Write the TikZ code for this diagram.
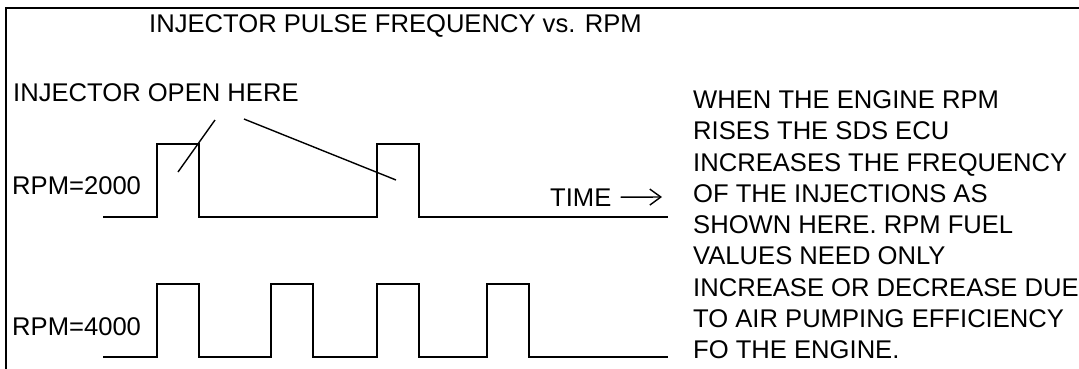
\documentclass[tikz,border=0pt]{standalone}
\usepackage{fontspec}
\setmainfont{Liberation Sans}
\usetikzlibrary{arrows.meta}

\begin{document}
\begin{tikzpicture}[
  x=1pt, y=-1pt,
  lbl/.style={font=\fontsize{25.6}{31.25}\selectfont, inner sep=0pt, anchor=base west},
  wave/.style={line width=2pt, line join=miter},
  leader/.style={line width=1.4pt},
  timearrow/.style={line width=1.4pt, -{Straight Barb[length=11pt, width=16pt, line width=1.4pt]}},
]
% page is 1079 x 368, y grows downward, units are pixels
\useasboundingbox (0,0) rectangle (1079,368);
\clip (0,0) rectangle (1079,368);
\fill[white] (0,0) rectangle (1079,368);
\draw[line width=2.5pt] (6,8) rectangle (1100,400);

% headings
\node[lbl] (title) at (149,32) {INJECTOR PULSE FREQUENCY vs. RPM};
\node[lbl] (open)  at (13,101) {INJECTOR OPEN HERE};
\node[lbl] (rpmlo) at (12,194) {RPM=2000};
\node[lbl] (rpmhi) at (12,335) {RPM=4000};

% pulse trains
\draw[wave] (103,217) -| (157,144) -| (199,217) -| (377,144) -| (419,217) -- (668,217);
\draw[wave] (103,357)
  \foreach \a/\b in {157/199, 271/313, 377/419, 487/529} { -| (\a,284) -| (\b,357) }
  -- (668,357);

% leaders from the label to the open pulses
\coordinate (lead1) at (215,120);
\coordinate (hit1)  at (178,172);
\coordinate (lead2) at (244,119);
\coordinate (hit2)  at (396,180);
\draw[leader] (lead1) -- (hit1);
\draw[leader] (lead2) -- (hit2);

% time axis
\node[lbl] (time) at (550,206) {TIME};
\coordinate (tend) at (662,197);
\draw[timearrow] ([xshift=9pt]time.east) -- (tend);

% explanation, one node per line
\foreach \i/\txt in {%
  0/WHEN THE ENGINE RPM,
  1/RISES THE SDS ECU,
  2/INCREASES THE FREQUENCY,
  3/OF THE INJECTIONS AS,
  4/SHOWN HERE. RPM FUEL,
  5/VALUES NEED ONLY,
  6/INCREASE OR DECREASE DUE,
  7/TO AIR PUMPING EFFICIENCY,
  8/FO THE ENGINE.%
} {
  \pgfmathsetmacro{\y}{108.5 + \i*31.25}
  \node[lbl] (note\i) at (693,\y) {\txt};
}
\end{tikzpicture}
\end{document}
